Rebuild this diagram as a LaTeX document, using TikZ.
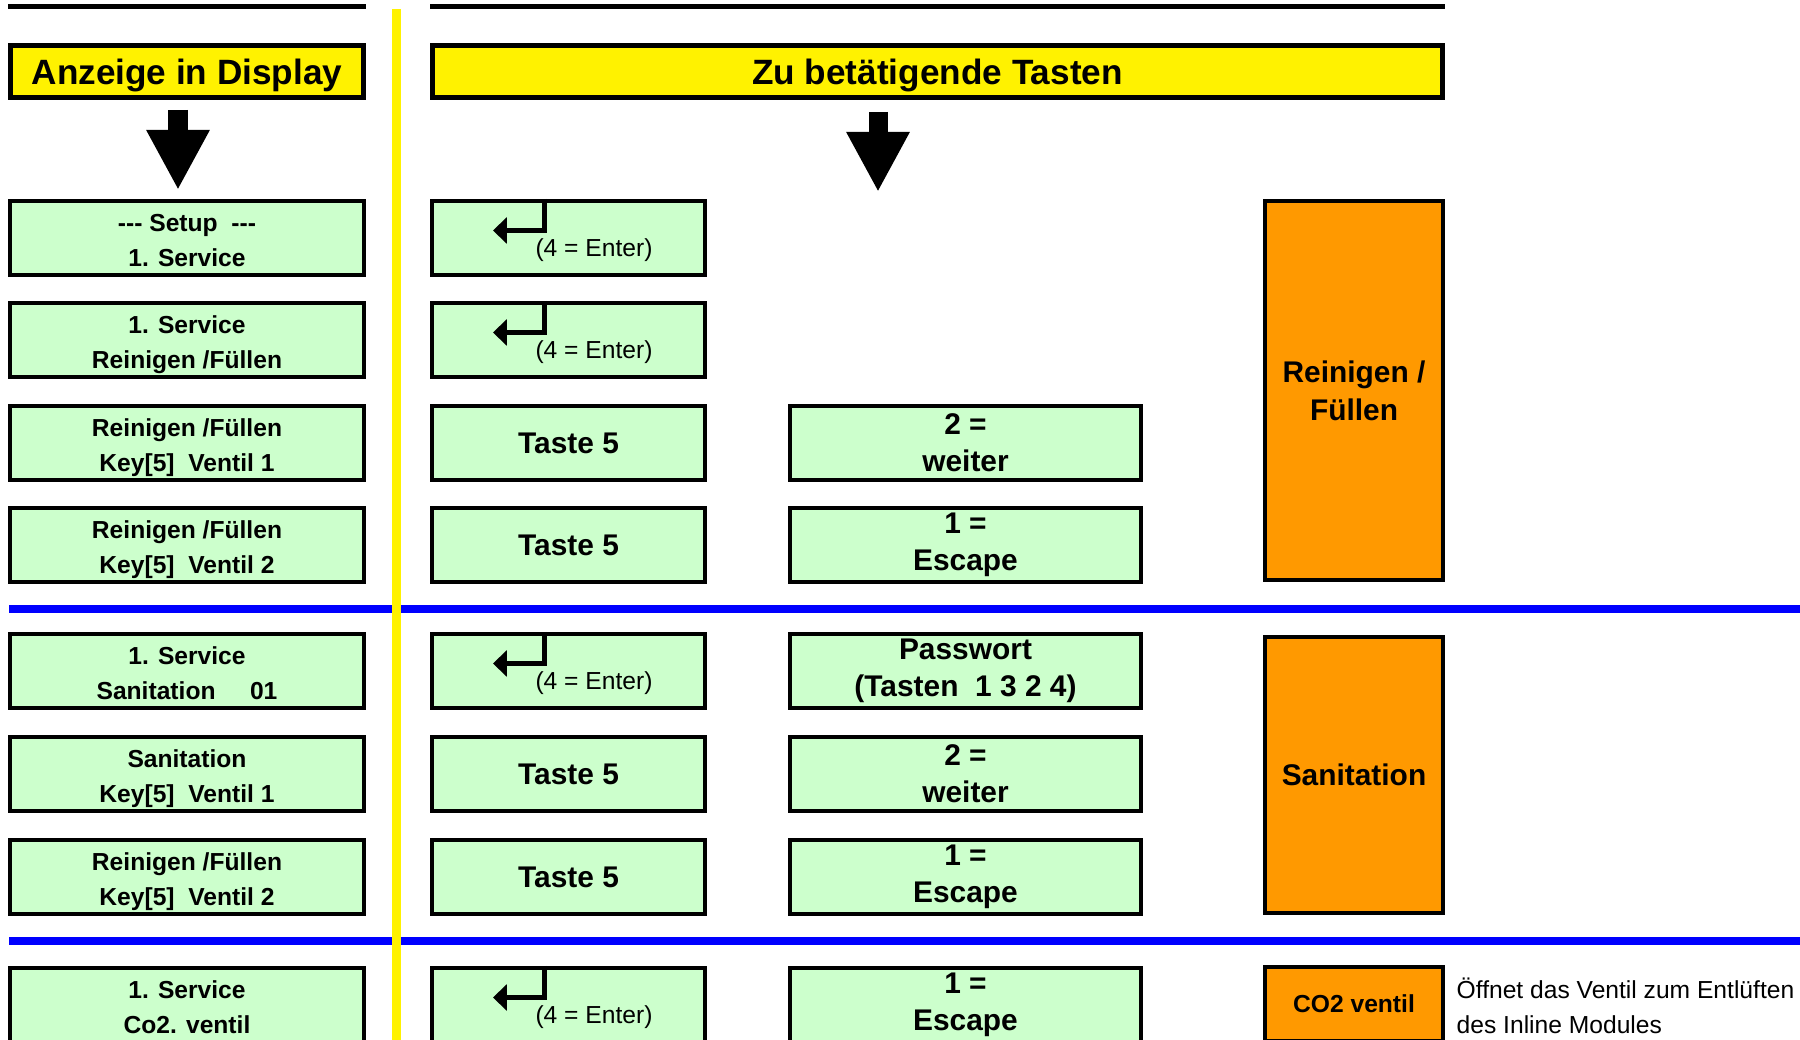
\documentclass[tikz,border=0pt]{standalone}
\usepackage{fontspec}
\setmainfont{Liberation Sans}
\usepackage{xcolor}
\usetikzlibrary{arrows.meta}
\definecolor{lcdgreen}{HTML}{CCFFCC}
\definecolor{boxorange}{HTML}{FF9900}
\tikzset{
	disp node/.style={draw,line width=1.25pt,fill=lcdgreen,minimum width=3.536cm,minimum height=0.736cm,
		inner sep=0pt,align=center,font=\fontsize{7}{9.8}\selectfont\bfseries},
	key node/.style={disp node,minimum width=2.726cm,font=\fontsize{8.5}{10.5}\selectfont\bfseries},
	info node/.style={key node,minimum width=3.506cm},
	group node/.style={draw,line width=1.25pt,fill=boxorange,minimum width=1.776cm,inner sep=0pt,
		align=center,font=\fontsize{8.5}{10.8}\selectfont\bfseries},
	head node/.style={draw,line width=1.45pt,fill=yellow,minimum height=0.52cm,inner sep=0pt,
		text height=7.2pt,text depth=0pt,font=\fontsize{10}{12}\selectfont\bfseries},
	enter text/.style={inner sep=0pt,font=\fontsize{7}{9}\selectfont},
	enter line/.style={line width=0.05cm,-{Triangle[length=0.14cm,width=0.26cm]}},
	big arrow/.style={line width=0.19cm,-{Triangle[length=0.6cm,width=0.59cm]}},
	sep line/.style={blue,line width=0.076cm}
}
\newcommand{\dashes}{-\kern0pt-\kern0pt-}
\newcommand{\lcd}[2]{\rule{0pt}{8pt}#1\\#2\rule[-1.8pt]{0pt}{0pt}}
\newcommand{\enterkey}[1]{%
	\draw[enter line] ([xshift=-0.235cm]#1.north) -- ([xshift=-0.235cm,yshift=0.075cm]#1.center)
		-- ([xshift=-0.755cm,yshift=0.075cm]#1.center);
	\node[enter text] (#1t) at ([xshift=0.255cm,yshift=-0.12cm]#1.center) {(4 = Enter)};}

\begin{document}
\begin{tikzpicture}[x=0.01cm,y=-0.01cm]
	\useasboundingbox (0,0) rectangle (1800,1040);
	\clip (0,0) rectangle (1800,1040);

	\draw[line width=0.053cm] (8,6.5) -- (366,6.5);
	\draw[line width=0.053cm] (430,6.5) -- (1445,6.5);

	\node[head node,minimum width=3.53cm] (hl) at (187,71.5) {Anzeige in Display};
	\node[head node,minimum width=10.1cm] (hr) at (937.5,71.5) {Zu betätigende Tasten};

	\coordinate (al1) at (178,110);
	\coordinate (al2) at (178,190);
	\coordinate (ar1) at (878,112);
	\coordinate (ar2) at (878,192);
	\draw[big arrow] (al1) -- (al2);
	\draw[big arrow] (ar1) -- (ar2);

	% Reinigen / Fuellen
	\node[disp node] (d1) at (187,238) {\lcd{\dashes{} Setup\ \ \dashes}{1. Service}};
	\node[key node] (k1) at (568.5,238) {};
	\enterkey{k1}

	\node[disp node] (d2) at (187,340) {\lcd{1. Service}{Reinigen /Füllen}};
	\node[key node] (k2) at (568.5,340) {};
	\enterkey{k2}

	\node[disp node] (d3) at (187,443) {\lcd{Reinigen /Füllen}{Key[5]\ \ Ventil 1}};
	\node[key node] (k3) at (568.5,443) {Taste 5};
	\node[info node] (i3) at (965.5,443) {2 =\\weiter};

	\node[disp node] (d4) at (187,545) {\lcd{Reinigen /Füllen}{Key[5]\ \ Ventil 2}};
	\node[key node] (k4) at (568.5,545) {Taste 5};
	\node[info node] (i4) at (965.5,545) {1 =\\Escape};

	\node[group node,minimum height=3.786cm] (g1) at (1354,390.5) {Reinigen /\\Füllen};

	% Sanitation
	\node[disp node] (d5) at (187,671) {\lcd{1. Service}{Sanitation\hspace{1.4em}01}};
	\node[key node] (k5) at (568.5,671) {};
	\enterkey{k5}
	\node[info node] (i5) at (965.5,671) {Passwort\\(Tasten\ \ 1 3 2 4)};

	\node[disp node] (d6) at (187,774) {\lcd{Sanitation}{Key[5]\ \ Ventil 1}};
	\node[key node] (k6) at (568.5,774) {Taste 5};
	\node[info node] (i6) at (965.5,774) {2 =\\weiter};

	\node[disp node] (d7) at (187,877) {\lcd{Reinigen /Füllen}{Key[5]\ \ Ventil 2}};
	\node[key node] (k7) at (568.5,877) {Taste 5};
	\node[info node] (i7) at (965.5,877) {1 =\\Escape};

	\node[group node,minimum height=2.756cm] (g2) at (1354,775) {Sanitation};

	% CO2
	\node[disp node] (d8) at (187,1005) {\lcd{1. Service}{Co2. ventil}};
	\node[key node] (k8) at (568.5,1005) {};
	\enterkey{k8}
	\node[info node] (i8) at (965.5,1005) {1 =\\Escape};

	\node[group node,minimum height=0.736cm,font=\fontsize{7}{9}\selectfont\bfseries] (g3) at (1354,1004) {CO2 ventil};
	\node[anchor=west,inner sep=0pt,align=left,font=\fontsize{7}{10}\selectfont] (note) at (1456,1005.5)
		{Öffnet das Ventil zum Entlüften\\des Inline Modules};

	\draw[sep line] (9,609) -- (1800,609);
	\draw[sep line] (9,941) -- (1800,941);
	\draw[yellow,line width=0.09cm] (396,9) -- (396,1040);
\end{tikzpicture}
\end{document}
